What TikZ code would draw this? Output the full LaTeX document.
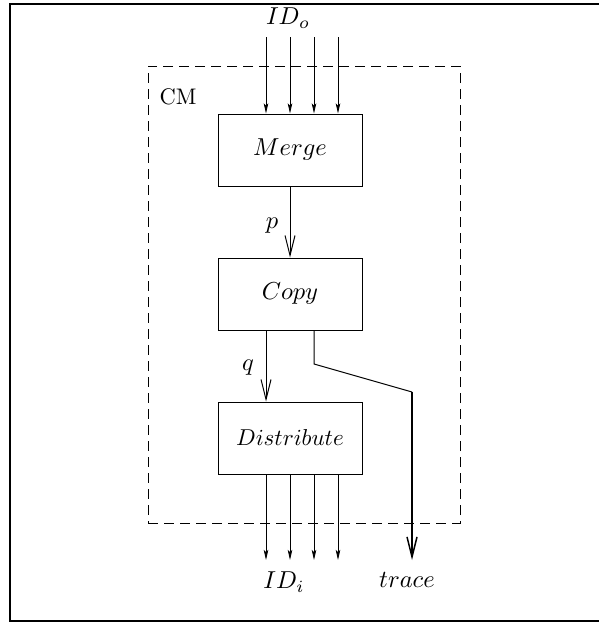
\documentclass[tikz,border=0pt]{standalone}
\usetikzlibrary{arrows.meta}
\newcommand\mtx[2][2.45]{\scalebox{#1}{$#2$}}
\newcommand\lowtx[2][2.45]{\raisebox{-4pt}{\scalebox{#1}{$#2$}}}
\begin{document}
\begin{tikzpicture}[x=1pt,y=-1pt,
  blk/.style={draw,line width=1pt,minimum width=144pt,minimum height=72pt,inner sep=0pt},
  lbl/.style={inner sep=0pt},
  thin/.style={line width=0.9pt,-{Stealth[length=10pt,width=4.5pt,inset=2pt]}},
  big/.style={line width=1pt,-{Straight Barb[length=20pt,width=10pt]}}]
\useasboundingbox (0,0) rectangle (599,624);
\draw[line width=2.5pt] (599,4) -- (10,4) -- (10,621) -- (599,621);
\node[draw,dashed,dash pattern=on 10pt off 6pt,line width=0.9pt,minimum width=312pt,minimum height=457pt,inner sep=0pt] (cm) at (304,294.5) {};
\node[lbl] (cml) at (178,97) {\scalebox{2.25}{CM}};
\node[blk] (m) at (290,150) {\lowtx{Merge}};
\node[blk] (c) at (290,294) {\lowtx{Copy}};
\node[blk] (d) at (290,438) {\lowtx[2.3]{Distribute}};
\node[lbl] (ido) at (288,18) {\mtx{ID_o}};
\node[lbl] (idi) at (284,582) {\mtx{ID_i}};
\node[lbl] (tr) at (407,580) {\mtx{trace}};
\node[lbl] (pl) at (272,226) {\mtx{p}};
\node[lbl] (ql) at (248,368) {\mtx{q}};
\foreach \i/\x in {1/266,2/290,3/314,4/338}{
  \coordinate (t\i) at (\x,37);
  \coordinate (b\i) at (\x,560);
  \draw[thin] (t\i) -- (t\i |- m.north);
  \draw[thin] (b\i |- d.south) -- (b\i);
}
\draw[big] (m.south) -- (c.north);
\coordinate (qx) at (266,0);
\draw[big] (qx |- c.south) -- (qx |- d.north);
\coordinate (k1) at (314,364);
\coordinate (k2) at (412,392);
\coordinate (k3) at (412,560);
\draw[line width=1pt] (k1 |- c.south) -- (k1) -- (k2);
\draw[big,line width=1.5pt] (k2) -- (k3);
\end{tikzpicture}
\end{document}
